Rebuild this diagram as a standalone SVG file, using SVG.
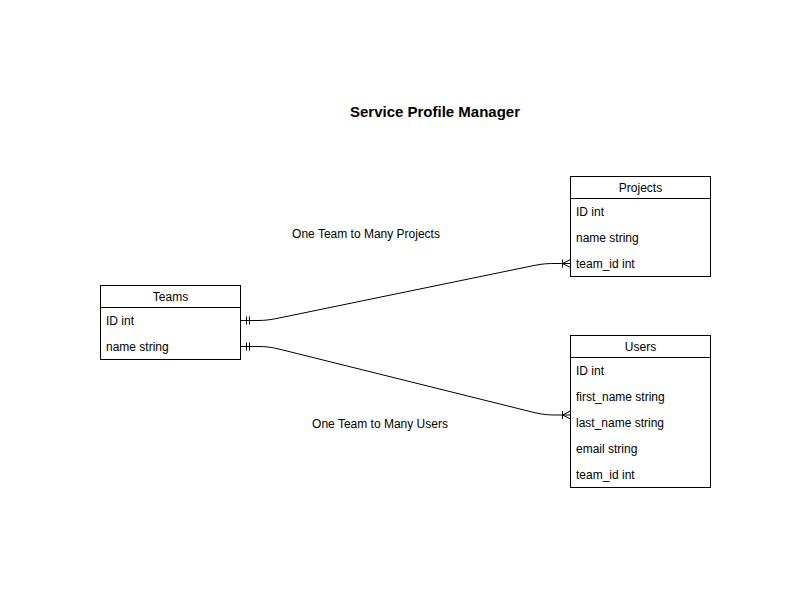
<svg xmlns="http://www.w3.org/2000/svg" width="811" height="591" viewBox="0 0 811 591">
<style>
.box{fill:#fff;stroke:#000;stroke-width:1}
.t{font-family:"Liberation Sans",Arial,sans-serif;font-size:12px;fill:#000}
.c{text-anchor:middle}
.title{font-family:"Liberation Sans",Arial,sans-serif;font-size:15px;font-weight:bold;text-anchor:middle}
.edge{fill:none;stroke:#000;stroke-width:1}
</style>
<rect width="811" height="591" fill="#fff"/>
<text class="title" x="435" y="117">Service Profile Manager</text>
<g id="connectors">
<path class="edge" d="M240.5,320.5 L258,320.5 C266,320.5 272,319.5 280,317.8 L534,265.5 C543,263.7 548,263.5 556,263.5 L570.5,263.5"/>
<path class="edge" d="M246.5,316.5 V324.5 M249.5,316.5 V324.5"/>
<path class="edge" d="M562.5,259.5 V267.5 M562.5,263.5 L570.5,259.5 M562.5,263.5 L570.5,267.5"/>
<path class="edge" d="M240.5,346.5 L258,346.5 C266,346.5 272,347.3 280,349.3 L534,412.5 C543,414.6 548,415 556,415 L570.5,415"/>
<path class="edge" d="M246.5,342.5 V350.5 M249.5,342.5 V350.5"/>
<path class="edge" d="M562.5,411 V419 M562.5,415 L570.5,411 M562.5,415 L570.5,419"/>
<text class="t c" x="366" y="238">One Team to Many Projects</text>
<text class="t c" x="380" y="428">One Team to Many Users</text>
</g>
<g id="teams">
<rect class="box" x="100.5" y="285.5" width="140" height="74"/>
<line class="edge" x1="100.5" y1="307.5" x2="240.5" y2="307.5"/>
<text class="t c" x="170.5" y="301">Teams</text>
<text class="t" x="106" y="325">ID int</text>
<text class="t" x="106" y="351">name string</text>
</g>
<g id="projects">
<rect class="box" x="570.5" y="176.5" width="140" height="100"/>
<line class="edge" x1="570.5" y1="198.5" x2="710.5" y2="198.5"/>
<text class="t c" x="640.5" y="192">Projects</text>
<text class="t" x="576" y="216">ID int</text>
<text class="t" x="576" y="242">name string</text>
<text class="t" x="576" y="268">team_id int</text>
</g>
<g id="users">
<rect class="box" x="570.5" y="335.5" width="140" height="152"/>
<line class="edge" x1="570.5" y1="357.5" x2="710.5" y2="357.5"/>
<text class="t c" x="640.5" y="351">Users</text>
<text class="t" x="576" y="375">ID int</text>
<text class="t" x="576" y="401">first_name string</text>
<text class="t" x="576" y="427">last_name string</text>
<text class="t" x="576" y="453">email string</text>
<text class="t" x="576" y="479">team_id int</text>
</g>
</svg>
